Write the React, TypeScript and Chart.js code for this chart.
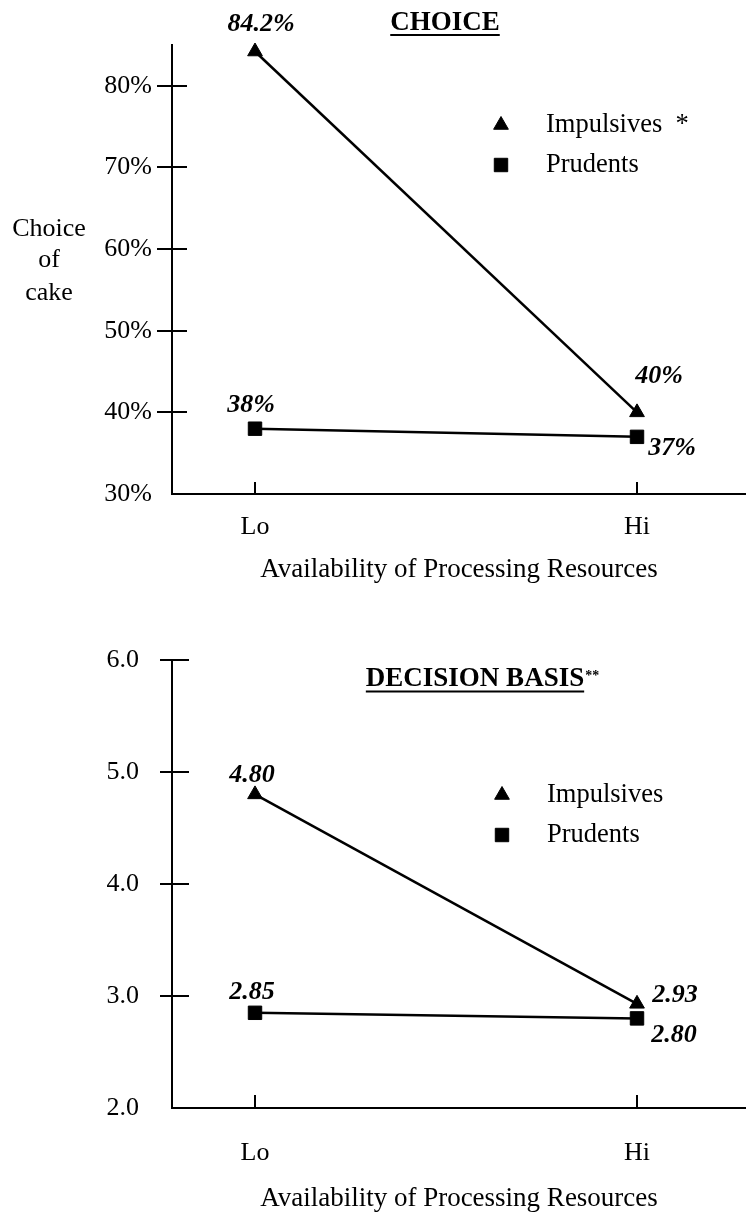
import React, { useEffect, useRef } from 'react';
import { Chart, registerables } from 'chart.js';
import { drawPoint } from 'chart.js/helpers';

Chart.register(...registerables);

// ---------- data ----------
const CATEGORIES = ['Lo', 'Hi'];
const SERIES_NAMES_CHOICE = ['Impulsives  *', 'Prudents'];
const SERIES_NAMES_BASIS = ['Impulsives', 'Prudents'];
const IMPULSIVES_CHOICE = [84.2, 40];
const PRUDENTS_CHOICE = [38, 37];
const IMPULSIVES_BASIS = [4.8, 2.93];
const PRUDENTS_BASIS = [2.85, 2.8];
const CHOICE_TICKS = [30, 40, 50, 60, 70, 80];
const BASIS_TICKS = [2, 3, 4, 5, 6];
const CHOICE_TITLE = 'CHOICE';
const BASIS_TITLE = 'DECISION BASIS';
const BASIS_TITLE_MARK = '**';
const CHOICE_Y_TITLE = ['Choice', 'of', 'cake'];
const X_TITLE = 'Availability of Processing Resources';

// ---------- styling ----------
const FONT = "'Liberation Serif', 'Times New Roman', serif";
const INK = '#000';

type DecorCfg = {
  yOut: number;
  yIn: number;
  xIn: number;
  labelOffsets: number[][][];
  format: (v: number) => string;
  legend: { markerX: number; rows: number[]; textX: number; textDy: number; names: string[] };
  title: { text: string; x: number; y: number; underlineY: number; mark?: string; markY?: number };
  yTitle?: { lines: string[]; x: number; ys: number[] };
};

function makeDecor(cfg: DecorCfg) {
  return {
    id: 'decor',
    afterDraw(chart: any) {
      const { ctx } = chart;
      const xs = chart.scales.x;
      const ys = chart.scales.y;
      ctx.save();
      ctx.strokeStyle = INK;
      ctx.fillStyle = INK;
      ctx.lineWidth = 2;
      // y tick marks crossing the axis
      ys.ticks.forEach((t: any) => {
        if (t.value === ys.min) return;
        const py = Math.round(ys.getPixelForValue(t.value));
        ctx.beginPath();
        ctx.moveTo(ys.right - cfg.yOut, py);
        ctx.lineTo(ys.right + cfg.yIn, py);
        ctx.stroke();
      });
      // x tick marks pointing inward
      xs.ticks.forEach((t: any) => {
        const px = Math.round(xs.getPixelForValue(t.value));
        ctx.beginPath();
        ctx.moveTo(px, xs.top);
        ctx.lineTo(px, xs.top - cfg.xIn);
        ctx.stroke();
      });
      // data labels
      ctx.font = `italic bold 26px ${FONT}`;
      ctx.textAlign = 'center';
      ctx.textBaseline = 'alphabetic';
      chart.data.datasets.forEach((ds: any, di: number) => {
        const meta = chart.getDatasetMeta(di);
        meta.data.forEach((pt: any, pi: number) => {
          const off = cfg.labelOffsets[di][pi];
          ctx.fillText(cfg.format(ds.data[pi].y), pt.x + off[0], pt.y + off[1]);
        });
      });
      // legend
      ctx.font = `26.5px ${FONT}`;
      ctx.textAlign = 'left';
      chart.data.datasets.forEach((ds: any, di: number) => {
        const rowY = cfg.legend.rows[di];
        ctx.lineWidth = 1;
        drawPoint(
          ctx,
          { pointStyle: ds.pointStyle, radius: ds.pointRadius, borderWidth: 1, rotation: 0 } as any,
          cfg.legend.markerX,
          rowY
        );
        ctx.fillText(cfg.legend.names[di], cfg.legend.textX, rowY + cfg.legend.textDy);
      });
      // title
      const tt = cfg.title;
      ctx.font = `bold 27px ${FONT}`;
      ctx.textAlign = 'center';
      ctx.fillText(tt.text, tt.x, tt.y);
      const w = ctx.measureText(tt.text).width;
      ctx.lineWidth = 2;
      ctx.beginPath();
      ctx.moveTo(tt.x - w / 2, tt.underlineY);
      ctx.lineTo(tt.x + w / 2, tt.underlineY);
      ctx.stroke();
      if (tt.mark) {
        ctx.font = `bold 14px ${FONT}`;
        ctx.textAlign = 'left';
        ctx.fillText(tt.mark, tt.x + w / 2 + 1, tt.markY);
      }
      // horizontal y-axis title
      if (cfg.yTitle) {
        ctx.font = `26px ${FONT}`;
        ctx.textAlign = 'center';
        cfg.yTitle.lines.forEach((line, i) => ctx.fillText(line, cfg.yTitle!.x, cfg.yTitle!.ys[i]));
      }
      ctx.restore();
    },
  };
}

function makeDataset(label: string, values: number[], style: 'triangle' | 'rect', radius: number) {
  return {
    label,
    data: values.map((y, i) => ({ x: i, y })),
    borderColor: INK,
    backgroundColor: INK,
    borderWidth: 2.5,
    pointStyle: style,
    pointRadius: radius,
    pointHoverRadius: radius,
    pointBackgroundColor: INK,
    pointBorderColor: INK,
    pointBorderWidth: 1,
    tension: 0,
    clip: false as any,
  };
}

function makeConfig(opts: {
  datasets: any[];
  yMin: number;
  yMax: number;
  yTicks: number[];
  yFormat: (v: number) => string;
  yPad: number;
  xPad: number;
  xTitlePad: number;
  xHeight: number;
  top: number;
  decor: DecorCfg;
}): any {
  const tickFont = { family: FONT, size: 26 };
  return {
    type: 'line',
    data: { datasets: opts.datasets },
    options: {
      responsive: false,
      animation: false,
      events: [],
      layout: { autoPadding: false, padding: { top: opts.top, left: 0, right: 0, bottom: 0 } },
      plugins: { legend: { display: false }, tooltip: { enabled: false }, title: { display: false } },
      scales: {
        x: {
          type: 'linear',
          min: -0.2173,
          max: 1.2853,
          afterBuildTicks: (s: any) => {
            s.ticks = CATEGORIES.map((_, i) => ({ value: i }));
          },
          afterFit: (s: any) => {
            s.height = opts.xHeight;
          },
          grid: { display: false, drawTicks: false },
          border: { display: true, color: INK, width: 2 },
          ticks: {
            color: INK,
            font: tickFont,
            padding: opts.xPad,
            autoSkip: false,
            maxRotation: 0,
            callback: (v: any) => CATEGORIES[v] ?? '',
          },
          title: {
            display: true,
            text: X_TITLE,
            color: INK,
            font: { family: FONT, size: 27 },
            padding: { top: 0, bottom: opts.xTitlePad },
          },
        },
        y: {
          type: 'linear',
          min: opts.yMin,
          max: opts.yMax,
          afterBuildTicks: (s: any) => {
            s.ticks = opts.yTicks.map((v) => ({ value: v }));
          },
          afterFit: (s: any) => {
            s.width = 172;
          },
          grid: { display: false, drawTicks: false },
          border: { display: true, color: INK, width: 2 },
          ticks: {
            color: INK,
            font: tickFont,
            padding: opts.yPad,
            callback: (v: any) => opts.yFormat(Number(v)),
          },
        },
      },
    },
    plugins: [makeDecor(opts.decor)],
  };
}

const buildChoice = () =>
  makeConfig({
    datasets: [
      makeDataset(SERIES_NAMES_CHOICE[0], IMPULSIVES_CHOICE, 'triangle', 8.5),
      makeDataset(SERIES_NAMES_CHOICE[1], PRUDENTS_CHOICE, 'rect', 9.5),
    ],
    yMin: 30,
    yMax: 85,
    yTicks: CHOICE_TICKS,
    yFormat: (v) => `${v}%`,
    yPad: 20,
    xPad: 18,
    xTitlePad: 14,
    xHeight: 106,
    top: 45,
    decor: {
      yOut: 15,
      yIn: 15,
      xIn: 12,
      labelOffsets: [
        [
          [6, -20.6],
          [22, -29],
        ],
        [
          [-4, -16.5],
          [35, 18.3],
        ],
      ],
      format: (v) => `${v}%`,
      legend: { markerX: 501, rows: [125, 165], textX: 546, textDy: 7, names: SERIES_NAMES_CHOICE },
      title: { text: CHOICE_TITLE, x: 445, y: 30, underlineY: 35 },
      yTitle: { lines: CHOICE_Y_TITLE, x: 49, ys: [236, 267, 300] },
    },
  });

const buildBasis = () =>
  makeConfig({
    datasets: [
      makeDataset(SERIES_NAMES_BASIS[0], IMPULSIVES_BASIS, 'triangle', 8.5),
      makeDataset(SERIES_NAMES_BASIS[1], PRUDENTS_BASIS, 'rect', 9.5),
    ],
    yMin: 2,
    yMax: 6,
    yTicks: BASIS_TICKS,
    yFormat: (v) => v.toFixed(1),
    yPad: 33,
    xPad: 30,
    xTitlePad: 1,
    xHeight: 108,
    top: 60,
    decor: {
      yOut: 12,
      yIn: 17,
      xIn: 13,
      labelOffsets: [
        [
          [-3, -12],
          [38, -2],
        ],
        [
          [-3, -14],
          [37, 23.6],
        ],
      ],
      format: (v) => v.toFixed(2),
      legend: { markerX: 502, rows: [195, 235], textX: 547, textDy: 7, names: SERIES_NAMES_BASIS },
      title: { text: BASIS_TITLE, x: 475, y: 86, underlineY: 91.5, mark: BASIS_TITLE_MARK, markY: 80 },
    },
  });

function ChartCanvas({ build, width, height }: { build: () => any; width: number; height: number }) {
  const ref = useRef<HTMLCanvasElement | null>(null);
  useEffect(() => {
    if (!ref.current) return;
    const chart = new Chart(ref.current, build());
    return () => chart.destroy();
  }, [build]);
  return <canvas ref={ref} width={width} height={height} style={{ display: 'block', width, height }} />;
}

export default function App() {
  useEffect(() => {
    document.body.style.margin = '0';
  }, []);
  return (
    <div style={{ width: 746, height: 1216, background: '#fff' }}>
      <ChartCanvas build={buildChoice} width={746} height={600} />
      <ChartCanvas build={buildBasis} width={746} height={616} />
    </div>
  );
}
